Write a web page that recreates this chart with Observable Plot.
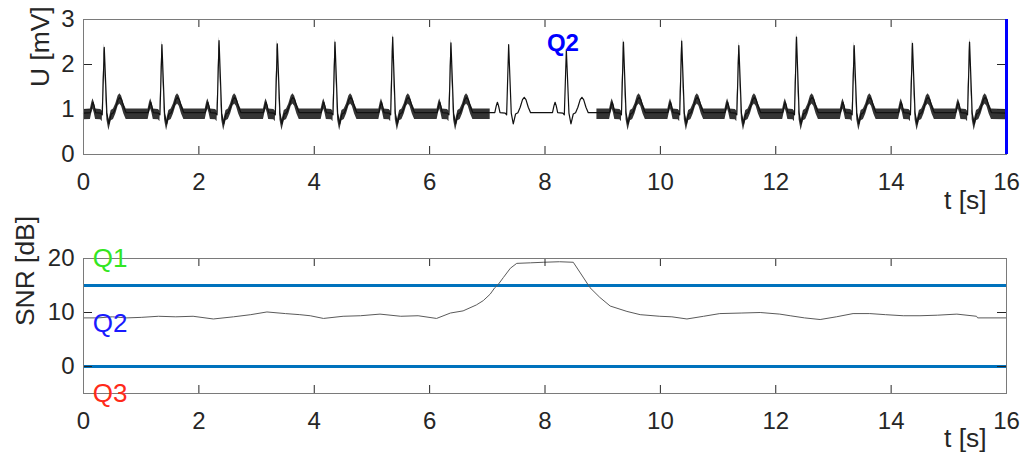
<!DOCTYPE html>
<html><head><meta charset="utf-8">
<script src="https://cdn.jsdelivr.net/npm/d3@7"></script>
<script src="https://cdn.jsdelivr.net/npm/@observablehq/plot@0.6"></script>
<style>
body{margin:0;background:#fff;font-family:"Liberation Sans",Arial,sans-serif;}
#chart{width:1024px;height:459px;position:relative;overflow:hidden}
svg{display:block}
</style></head><body><div id="chart"></div>
<script>
// ---------- data ----------
const xDomain = [0, 16];
const xTicks = [0, 2, 4, 6, 8, 10, 12, 14, 16];

// ECG panel
const ecgDomain = [0, 3];
const ecgTicks = [0, 1, 2, 3];
const beatTimes = [0.36, 1.36, 2.35, 3.36, 4.36, 5.36, 6.37, 7.37, 8.37, 9.36, 10.37, 11.36, 12.36, 13.36, 14.37, 15.36];
const beatPeaks = [2.38, 2.44, 2.53, 2.46, 2.50, 2.61, 2.48, 2.44, 2.33, 2.50, 2.52, 2.42, 2.61, 2.42, 2.47, 2.50];
// beat shape read from the clean beats (time offset from R peak, value in mV; null = R peak)
const beatDt = [-0.24, -0.215, -0.195, -0.175, -0.15, -0.06, -0.035, 0, 0.045, 0.08, 0.12, 0.16, 0.20, 0.24, 0.27, 0.30, 0.34, 0.38];
const beatU  = [0.93, 1.08, 1.16, 1.08, 0.93, 0.92, 0.88, null, 0.92, 0.68, 0.90, 0.93, 1.05, 1.22, 1.27, 1.22, 1.05, 0.93];
const baselineU = 0.92;
// noisy stretches and the spread of the noise band (mV above / below)
const noiseStart = [0, 8.9];
const noiseEnd = [7.05, 16];
const noiseUp = [0.08, 0.08];
const noiseDown = [0.15, 0.15];
const markerTime = [16];
const ecgNote = ["Q2"], ecgNoteT = [8.31], ecgNoteU = [2.47];

// SNR panel
const snrDomain = [-5, 20];
const snrTicks = [0, 10, 20];
const snrT = [0, 0.25, 0.5, 0.75, 1.0, 1.3, 1.6, 1.9, 2.25, 2.6, 2.9, 3.18, 3.5, 3.75, 3.93, 4.16, 4.5, 4.8, 5.14, 5.5, 5.8, 6.12, 6.36, 6.58, 6.81, 6.93, 7.05, 7.13, 7.19, 7.28, 7.4, 7.51, 7.75, 7.97, 8.25, 8.49, 8.67, 8.78, 8.95, 9.13, 9.42, 9.65, 9.99, 10.2, 10.46, 10.75, 11.03, 11.4, 11.73, 12.07, 12.25, 12.5, 12.77, 13.05, 13.34, 13.63, 13.9, 14.21, 14.5, 14.8, 15.14, 15.48, 15.5, 16];
const snrV = [9.0, 9.0, 9.2, 9.0, 9.1, 9.3, 9.2, 9.3, 8.8, 9.2, 9.6, 10.1, 9.8, 9.6, 9.4, 8.9, 9.3, 9.4, 9.7, 9.3, 9.4, 8.9, 9.9, 10.3, 11.4, 12.2, 13.4, 14.6, 15.2, 16.5, 18.2, 19.1, 19.2, 19.3, 19.4, 19.3, 16.4, 14.6, 12.8, 11.2, 10.2, 9.6, 9.3, 9.2, 8.8, 9.3, 9.8, 9.9, 10.0, 9.7, 9.4, 9.0, 8.7, 9.2, 9.8, 9.8, 9.6, 9.4, 9.4, 9.5, 9.7, 9.3, 9.0, 9.0];
const thresholds = [15, 0];
const qLabels = ["Q1", "Q2", "Q3"];
const qLevels = [20, 8, -5];
const qColors = ["#33e622", "#1a1aff", "#ff2a1a"];
const qTime = 0.16;

// ---------- build tables ----------
let ecg = [{t: xDomain[0], u: baselineU}];
beatTimes.forEach((bt, i) => {
  beatDt.forEach((dt, j) => ecg.push({t: bt + dt, u: beatU[j] === null ? beatPeaks[i] : beatU[j]}));
});
ecg.push({t: xDomain[1], u: baselineU});
// split the line at the noise boundaries
function valueAt(t) {
  const i = d3.bisector(d => d.t).left(ecg, t);
  if (i <= 0) return ecg[0].u;
  if (i >= ecg.length) return ecg[ecg.length - 1].u;
  const a = ecg[i - 1], b = ecg[i];
  return b.t === a.t ? b.u : a.u + (b.u - a.u) * (t - a.t) / (b.t - a.t);
}
[...noiseStart, ...noiseEnd].forEach(t => {
  if (!ecg.some(d => d.t === t)) ecg.push({t, u: valueAt(t)});
});
ecg.sort((a, b) => a.t - b.t);
const band = [];
noiseStart.forEach((s, k) => {
  ecg.filter(d => d.t >= s && d.t <= noiseEnd[k])
     .forEach(d => band.push({seg: k, t: d.t, lo: d.u - noiseDown[k], hi: d.u + noiseUp[k]}));
});
const snr = snrT.map((t, i) => ({t, v: snrV[i]}));

// ---------- layout ----------
const W = 1024, ML = 83, MR = 18;
const fontFamily = '"Liberation Sans", Arial, Helvetica, sans-serif';
const tickFont = 24, labelFont = 26.4;
const style = {fontFamily, fontSize: tickFont + "px", color: "#262626", background: "transparent", overflow: "visible"};
const tickLen = 8;

function frameTicks(frameH, yTicks) {
  const frameW = W - ML - MR;
  return [
    Plot.tickX(xTicks, {x: d => d, insetTop: frameH - tickLen, stroke: "#262626", strokeWidth: 1}),
    Plot.tickX(xTicks, {x: d => d, insetBottom: frameH - tickLen, stroke: "#262626", strokeWidth: 1}),
    Plot.tickY(yTicks, {y: d => d, insetRight: frameW - tickLen - 1, stroke: "#262626", strokeWidth: 1}),
    Plot.tickY(yTicks, {y: d => d, insetLeft: frameW - tickLen - 1, stroke: "#262626", strokeWidth: 1}),
    Plot.axisX(xTicks, {tickSize: 0, tickPadding: 18, fontSize: tickFont, label: null}),
    Plot.axisY(yTicks, {tickSize: 0, tickPadding: 9, fontSize: tickFont, label: null}),
    Plot.frame({stroke: "#7a7a7a", strokeWidth: 1})
  ];
}

// ---------- top: ECG ----------
const H1 = 230, MT1 = 19, MB1 = 76;
const ecgChart = Plot.plot({
  width: W, height: H1, marginTop: MT1, marginBottom: MB1, marginLeft: ML, marginRight: MR,
  style,
  x: {domain: xDomain},
  y: {domain: ecgDomain},
  marks: [
    Plot.areaY(band, {x: "t", y1: "lo", y2: "hi", z: "seg", fill: "#111", fillOpacity: 0.85, curve: "linear"}),
    Plot.line(ecg, {x: "t", y: "u", stroke: "#111", strokeWidth: 1.2}),
    ...frameTicks(H1 - MT1 - MB1, ecgTicks),
    Plot.ruleX(markerTime, {x: d => d, stroke: "#0000ff", strokeWidth: 3}),
    Plot.text(ecgNote, {x: (d, i) => ecgNoteT[i], y: (d, i) => ecgNoteU[i], text: d => d, fill: "#0000ff", fontWeight: "bold", fontSize: 24}),
    Plot.text(["U [mV]"], {frameAnchor: "left", dx: -43, rotate: -90, fontSize: labelFont, fill: "#262626"}),
    Plot.text(["t [s]"], {frameAnchor: "bottom-right", dx: -20, dy: 54, textAnchor: "end", fontSize: labelFont, fill: "#262626"})
  ]
});

// ---------- bottom: SNR ----------
const H2 = 229, MT2 = 28, MB2 = 66;
const snrChart = Plot.plot({
  width: W, height: H2, marginTop: MT2, marginBottom: MB2, marginLeft: ML, marginRight: MR,
  style,
  x: {domain: xDomain},
  y: {domain: snrDomain},
  marks: [
    Plot.ruleY(thresholds, {y: d => d, stroke: "#0072BD", strokeWidth: 3}),
    Plot.line(snr, {x: "t", y: "v", stroke: "#5a5a5a", strokeWidth: 1}),
    ...frameTicks(H2 - MT2 - MB2, snrTicks),
    Plot.text(qLabels, {x: () => qTime, y: (d, i) => qLevels[i], text: d => d, fill: (d, i) => qColors[i], textAnchor: "start", fontSize: 26}),
    Plot.text(["SNR [dB]"], {frameAnchor: "left", dx: -58, rotate: -90, fontSize: labelFont, fill: "#262626"}),
    Plot.text(["t [s]"], {frameAnchor: "bottom-right", dx: -20, dy: 53, textAnchor: "end", fontSize: labelFont, fill: "#262626"})
  ]
});

document.getElementById("chart").append(ecgChart, snrChart);
</script>
</body></html>
